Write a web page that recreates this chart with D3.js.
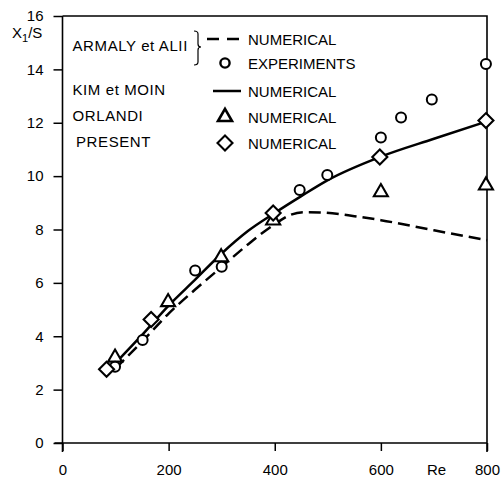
<!DOCTYPE html>
<html>
<head>
<meta charset="utf-8">
<script src="https://cdn.jsdelivr.net/npm/d3@7"></script>
<style>
  body { margin: 0; background: #fff; }
  text { font-family: "Liberation Sans", Arial, sans-serif; fill: #000; }
</style>
</head>
<body>
<div id="chart"></div>
<script>
// reattachment length X1/S against Re
const xTicks = [0, 200, 400, 600, 800];
const yTicks = [0, 2, 4, 6, 8, 10, 12, 14, 16];

// Armaly et alii, numerical (dashed)
const armalyNum = [[100, 2.8], [150, 3.8], [200, 4.85], [250, 5.75], [300, 6.6], [350, 7.45],
  [400, 8.2], [430, 8.55], [455, 8.65], [485, 8.64], [550, 8.5], [600, 8.35], [700, 7.97], [800, 7.6]];
// Armaly et alii, experiments (circles)
const armalyExp = [[99, 2.86], [151, 3.86], [250, 6.46], [300, 6.6], [447, 9.48], [499, 10.04],
  [600, 11.45], [638, 12.2], [696, 12.87], [798, 14.2]];
// Kim et Moin, numerical (solid)
const kimMoin = [[100, 3.0], [150, 4.05], [200, 5.15], [250, 6.12], [300, 7.1], [350, 7.95],
  [400, 8.62], [450, 9.25], [500, 9.85], [600, 10.73], [700, 11.4], [800, 12.05]];
// Orlandi, numerical (triangles)
const orlandi = [[99, 3.2], [199, 5.28], [299, 6.96], [397, 8.34], [600, 9.4], [798, 9.65]];
// present, numerical (diamonds)
const present = [[83, 2.76], [167, 4.63], [397, 8.62], [598, 10.72], [798, 12.08]];

const legendNames = ["ARMALY et ALII", "KIM et MOIN", "ORLANDI", "PRESENT"];
const legendKinds = ["NUMERICAL", "EXPERIMENTS", "NUMERICAL", "NUMERICAL", "NUMERICAL"];

const W = 502, H = 479;
const svg = d3.select("#chart").append("svg")
  .attr("width", W).attr("height", H);

const x = d3.scaleLinear().domain([0, 800]).range([62.5, 487]);
const y = d3.scaleLinear().domain([0, 16]).range([443, 16]);

// axes
const yAxis = svg.append("g")
  .attr("transform", `translate(${x(0)},0)`)
  .call(d3.axisLeft(y).tickValues(yTicks).tickSize(9).tickPadding(10));
const xAxis = svg.append("g")
  .attr("transform", `translate(0,${y(0)})`)
  .call(d3.axisBottom(x).tickValues(xTicks).tickSize(8).tickPadding(13));
[xAxis, yAxis].forEach(g => {
  g.select(".domain").remove();
  g.selectAll("line").attr("stroke", "#000").attr("stroke-width", 1.5);
  g.selectAll("text").style("font-size", "15px").attr("fill", "#000");
});

// frame, with the small overhangs at the corners
svg.append("path")
  .attr("d", `M${x(0)},${y(16)}H${x(800)}V${y(0) + 9}M${x(0)},${y(16)}V${y(0) + 9}M${x(0) - 8},${y(0)}H${x(800)}`)
  .attr("fill", "none").attr("stroke", "#000").attr("stroke-width", 1.6);

// axis titles
const yl = svg.append("text").attr("x", 12).attr("y", 38).style("font-size", "15px");
yl.append("tspan").text("X");
yl.append("tspan").attr("dy", 4).style("font-size", "11px").text("1");
yl.append("tspan").attr("dy", -4).text("/S");
svg.append("text").attr("x", x(705)).attr("y", 475).attr("text-anchor", "middle")
  .style("font-size", "15px").text("Re");

// curves
const line = d3.line().x(d => x(d[0])).y(d => y(d[1])).curve(d3.curveMonotoneX);
svg.append("path").datum(armalyNum).attr("d", line)
  .attr("fill", "none").attr("stroke", "#000").attr("stroke-width", 2.5).attr("stroke-dasharray", "12,6");
svg.append("path").datum(kimMoin).attr("d", line)
  .attr("fill", "none").attr("stroke", "#000").attr("stroke-width", 2.5);

// markers
const tri = d3.symbol().type(d3.symbolTriangle).size(85);
const dia = "M0,-7.5L7.5,0L0,7.5L-7.5,0Z";
svg.append("g").selectAll("path").data(orlandi).join("path")
  .attr("d", tri).attr("transform", d => `translate(${x(d[0])},${y(d[1])})`)
  .attr("fill", "#fff").attr("stroke", "#000").attr("stroke-width", 2.1);
svg.append("g").selectAll("circle").data(armalyExp).join("circle")
  .attr("cx", d => x(d[0])).attr("cy", d => y(d[1])).attr("r", 5)
  .attr("fill", "#fff").attr("stroke", "#000").attr("stroke-width", 2);
svg.append("g").selectAll("path").data(present).join("path")
  .attr("d", dia).attr("transform", d => `translate(${x(d[0])},${y(d[1])})`)
  .attr("fill", "#fff").attr("stroke", "#000").attr("stroke-width", 2.1);

// legend
const leg = svg.append("g");
const nameY = [51, 95, 121, 147];
const nameX = [72.5, 72.5, 72.5, 76];
leg.selectAll("text.name").data(legendNames).join("text")
  .attr("class", "name")
  .attr("x", (d, i) => nameX[i]).attr("y", (d, i) => nameY[i])
  .style("font-size", "15px").style("letter-spacing", "0.6px").text(d => d);

const rowY = [39, 63, 91, 117, 143];
leg.selectAll("text.kind").data(legendKinds).join("text")
  .attr("class", "kind")
  .attr("x", 248).attr("y", (d, i) => rowY[i] + 5.5)
  .style("font-size", "15px").text(d => d);

leg.append("path").attr("d", "M194,31Q198,31 198,34L198,44Q198,47 201,47Q198,47 198,50L198,62Q198,65 194,65")
  .attr("fill", "none").attr("stroke", "#000").attr("stroke-width", 1.2);
leg.append("line").attr("x1", 207).attr("x2", 241).attr("y1", rowY[0]).attr("y2", rowY[0])
  .attr("stroke", "#000").attr("stroke-width", 2.5).attr("stroke-dasharray", "12,8");
leg.append("circle").attr("cx", 225).attr("cy", rowY[1]).attr("r", 4.6)
  .attr("fill", "#fff").attr("stroke", "#000").attr("stroke-width", 2.4);
leg.append("line").attr("x1", 213).attr("x2", 241).attr("y1", rowY[2]).attr("y2", rowY[2])
  .attr("stroke", "#000").attr("stroke-width", 2.5);
leg.append("path").attr("d", tri).attr("transform", `translate(225,${rowY[3]})`)
  .attr("fill", "#fff").attr("stroke", "#000").attr("stroke-width", 2.6);
leg.append("path").attr("d", dia).attr("transform", `translate(225,${rowY[4]})`)
  .attr("fill", "#fff").attr("stroke", "#000").attr("stroke-width", 2.1);
</script>
</body>
</html>
